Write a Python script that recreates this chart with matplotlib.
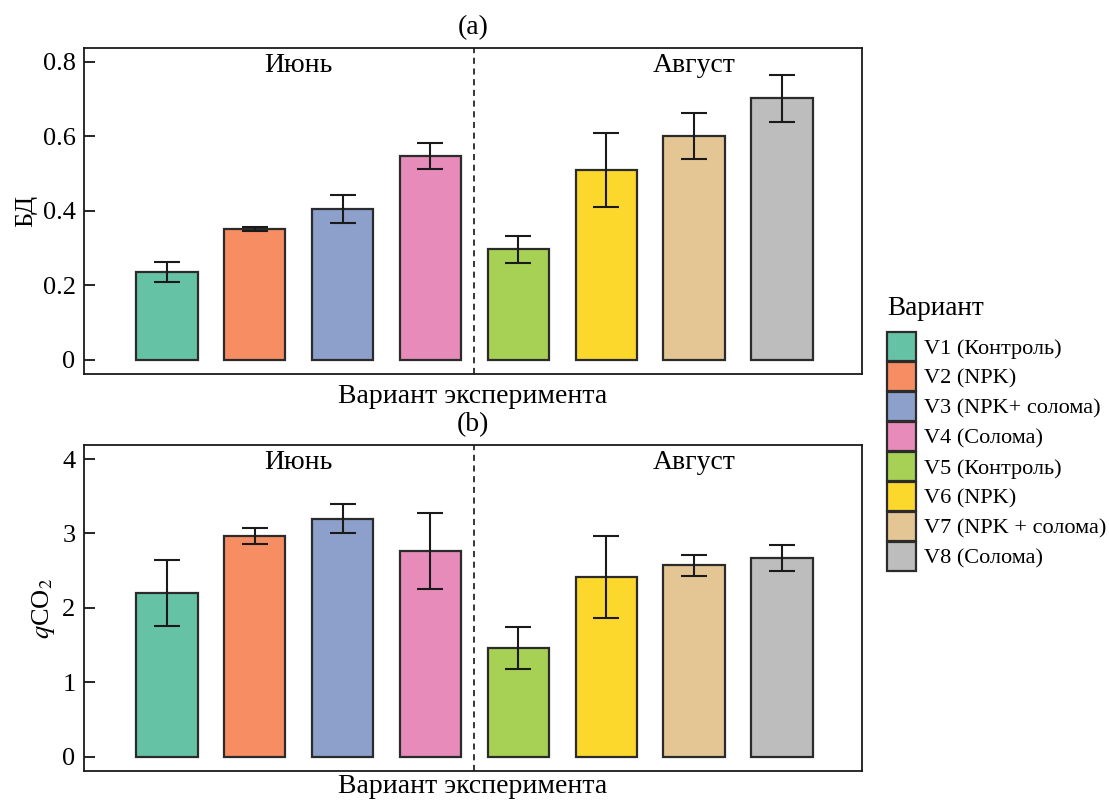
import matplotlib
matplotlib.use("Agg")
import matplotlib.pyplot as plt
from matplotlib.patches import Patch
import numpy as np

plt.rcParams['font.family'] = ['Liberation Serif', 'DejaVu Serif']
plt.rcParams['mathtext.fontset'] = 'stix'

variants = [
    "V1 (Контроль)",
    "V2 (NPK)",
    "V3 (NPK+ солома)",
    "V4 (Солома)",
    "V5 (Контроль)",
    "V6 (NPK)",
    "V7 (NPK + солома)",
    "V8 (Солома)",
]
colors = ["#66c2a5", "#f78d63", "#8da0cb", "#e68bba", "#a6d155", "#fdd82c", "#e4c594", "#bdbdbd"]

bd_mean = [0.237, 0.352, 0.405, 0.548, 0.297, 0.510, 0.601, 0.702]
bd_err = [0.027, 0.005, 0.037, 0.035, 0.037, 0.100, 0.061, 0.062]

qco2_mean = [2.20, 2.97, 3.20, 2.76, 1.46, 2.41, 2.57, 2.67]
qco2_err = [0.44, 0.11, 0.20, 0.51, 0.28, 0.55, 0.14, 0.175]

months = ["Июнь", "Август"]
month_pos = [1.5, 6.0]

bd_ticks = [0, 0.2, 0.4, 0.6, 0.8]
bd_ticklabels = ["0", "0.2", "0.4", "0.6", "0.8"]
qco2_ticks = [0, 1, 2, 3, 4]
qco2_ticklabels = ["0", "1", "2", "3", "4"]

fig = plt.figure(figsize=(11.09, 8.01), dpi=100)
ax1 = fig.add_axes([0.0757, 0.5331, 0.7016, 0.4070])
ax2 = fig.add_axes([0.0757, 0.0375, 0.7016, 0.4070])

x = np.arange(len(variants))
edge = "#2b2b2b"

panels = [
    (ax1, bd_mean, bd_err, "БД", "(a)", bd_ticks, bd_ticklabels, (-0.0376, 0.8376), 7),
    (ax2, qco2_mean, qco2_err, "$q$CO$_2$", "(b)", qco2_ticks, qco2_ticklabels, (-0.192, 4.19), 2),
]

for ax, means, errs, ylabel, title, ticks, ticklabels, ylim, xpad in panels:
    ax.bar(x, means, width=0.7, color=colors, edgecolor=edge, linewidth=1.6, zorder=2)
    ax.errorbar(x, means, yerr=errs, fmt="none", ecolor="#1a1a1a",
                elinewidth=1.5, capsize=9.4, capthick=1.5, zorder=3)
    ax.axvline(3.5, color="black", linestyle=(0, (4, 3)), linewidth=1.1, zorder=1)
    ax.set_xlim(-0.943, 7.91)
    ax.set_ylim(*ylim)
    ax.set_xticks([])
    ax.set_yticks(ticks)
    ax.set_yticklabels(ticklabels)
    ax.tick_params(axis="y", direction="in", length=8, width=1.2, labelsize=19, pad=6)
    for sp in ax.spines.values():
        sp.set_linewidth(1.3)
        sp.set_color("#1a1a1a")
    ax.set_ylabel(ylabel, fontsize=19, labelpad=4)
    ax.set_xlabel("Вариант эксперимента", fontsize=20, labelpad=xpad)
    ax.set_title(title, fontsize=20, pad=10)
    for name, pos in zip(months, month_pos):
        ax.text(pos, 0.945, name, transform=ax.get_xaxis_transform(),
                ha="center", va="center", fontsize=20)

# legend title drawn separately to get the larger gap above the boxes
fig.text(887 / 1109, 1 - 315 / 801, "Вариант", fontsize=19.5, ha="left", va="baseline")

handles = [Patch(facecolor=c, edgecolor=edge, linewidth=1.6) for c in colors]
leg = fig.legend(handles, variants, loc="upper left",
                 bbox_to_anchor=(887 / 1109, 1 - 332 / 801),
                 frameon=False, fontsize=16,
                 handlelength=1.3, handleheight=1.63, labelspacing=0.045,
                 handletextpad=0.36, borderpad=0, borderaxespad=0)

fig.savefig("out.png", dpi=100)
